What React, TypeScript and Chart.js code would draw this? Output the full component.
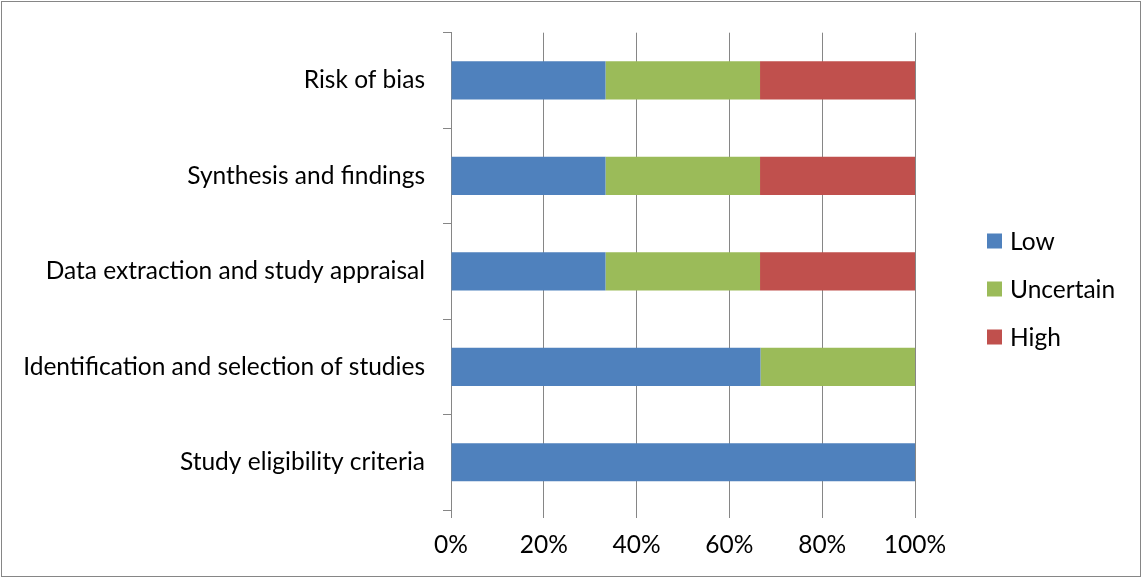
import React, { useEffect, useRef } from "react";
import { Chart, registerables } from "chart.js";

Chart.register(...registerables);

const categories = [
  "Risk of bias",
  "Synthesis and findings",
  "Data extraction and study appraisal",
  "Identification and selection of studies",
  "Study eligibility criteria",
];
const lowValues = [33.3, 33.3, 33.3, 66.7, 100];
const uncertainValues = [33.3, 33.3, 33.3, 33.3, 0];
const highValues = [33.4, 33.4, 33.4, 0, 0];
const xTicks = [0, 20, 40, 60, 80, 100];

const FONT = "Lato";
const FONT_SIZE = 24.5;
const GRAY = "#868686";

const legendPlugin = {
  id: "sideLegend",
  afterDraw(chart: any) {
    const ctx = chart.ctx;
    ctx.save();
    ctx.font = `${FONT_SIZE}px ${FONT}`;
    ctx.textBaseline = "middle";
    ctx.textAlign = "left";
    chart.data.datasets.forEach((ds: any, i: number) => {
      const cy = 241 + i * 48;
      ctx.fillStyle = ds.backgroundColor;
      ctx.fillRect(987, cy - 7.5, 15, 15);
      ctx.fillStyle = "#000";
      ctx.fillText(ds.label, 1010, cy + 1);
    });
    ctx.restore();
  },
};

export default function App() {
  const ref = useRef<HTMLCanvasElement>(null);
  useEffect(() => {
    if (!ref.current) return;
    Chart.defaults.font.family = FONT;
    Chart.defaults.font.size = FONT_SIZE;
    Chart.defaults.color = "#000";
    const chart = new Chart(ref.current, {
      type: "bar",
      data: {
        labels: categories,
        datasets: [
          { label: "Low", data: lowValues, backgroundColor: "#4F81BD" },
          { label: "Uncertain", data: uncertainValues, backgroundColor: "#9BBB59" },
          { label: "High", data: highValues, backgroundColor: "#C0504D" },
        ],
      },
      options: {
        indexAxis: "y",
        responsive: false,
        animation: false,
        datasets: { bar: { barPercentage: 0.4, categoryPercentage: 1.0 } },
        layout: { padding: { top: 30, right: 227, left: 0, bottom: 0 } },
        plugins: { legend: { display: false }, tooltip: { enabled: false } },
        scales: {
          x: {
            stacked: true,
            min: 0,
            max: 100,
            afterBuildTicks: (s: any) => {
              s.ticks = xTicks.map((v) => ({ value: v }));
            },
            ticks: {
              callback: (v: any) => `${v}%`,
              padding: 12,
              maxRotation: 0,
              color: "#000",
            },
            grid: { color: GRAY, lineWidth: 1, drawTicks: true, tickLength: 8 },
            border: { display: false },
            afterFit: (s: any) => {
              s.height = 68;
            },
          },
          y: {
            stacked: true,
            ticks: { padding: 18, color: "#000" },
            grid: {
              drawOnChartArea: false,
              offset: true,
              color: GRAY,
              tickLength: 8,
            },
            border: { display: true, color: GRAY },
            afterFit: (s: any) => {
              s.width = 451;
            },
          },
        },
      },
      plugins: [legendPlugin],
    });
    return () => chart.destroy();
  }, []);
  return (
    <div style={{ position: "fixed", left: 0, top: 0, width: 1142, height: 578, background: "#fff" }}>
      <canvas ref={ref} width={1142} height={578} style={{ position: "absolute", left: 0, top: 0 }} />
      <div
        style={{
          position: "absolute",
          left: 1,
          top: 1,
          width: 1140,
          height: 576,
          border: `1px solid ${GRAY}`,
          boxSizing: "border-box",
          pointerEvents: "none",
        }}
      />
    </div>
  );
}
